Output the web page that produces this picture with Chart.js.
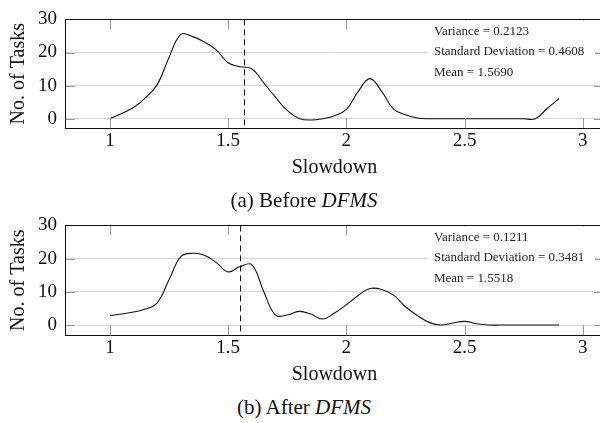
<!DOCTYPE html>
<html>
<head>
<meta charset="utf-8">
<script src="https://cdn.jsdelivr.net/npm/chart.js@4.4.1/dist/chart.umd.min.js"></script>
<style>
  body { margin: 0; background: #fff; width: 600px; height: 423px; overflow: hidden; position: relative; }
  canvas { position: absolute; left: 0; }
  #c1 { top: 0; }
  #c2 { top: 206px; }
  .caption { position: absolute; left: 0; width: 608px; text-align: center;
             font: 21px "Liberation Serif", "Times New Roman", serif; color: #111; line-height: 24px; }
</style>
</head>
<body>
<canvas id="c1" width="620" height="183"></canvas>
<canvas id="c2" width="620" height="184"></canvas>
<div class="caption" style="top:188px">(a) Before <i>DFMS</i></div>
<div class="caption" style="top:395px">(b) After <i>DFMS</i></div>
<script>
// slowdown values (x) and number of tasks for each run
const slowdown = [1.00, 1.05, 1.10, 1.15, 1.20, 1.25, 1.30, 1.35, 1.40, 1.45,
                  1.50, 1.55, 1.60, 1.65, 1.70, 1.75, 1.80, 1.85, 1.90, 1.95,
                  2.00, 2.05, 2.10, 2.15, 2.20, 2.25, 2.30, 2.35, 2.40, 2.45,
                  2.50, 2.55, 2.60, 2.65, 2.70, 2.75, 2.80, 2.85, 2.90];
const beforeTasks = [0, 1.6, 3.4, 6.3, 10.3, 18.5, 25.5, 24.8, 23.2, 20.8,
                     16.9, 15.7, 15.1, 10.9, 6.5, 2.5, 0.1, -0.4, 0, 0.9,
                     2.8, 8.2, 12.1, 8.2, 2.9, 1.2, 0.2, 0, 0, 0,
                     0, 0, 0, 0, 0, 0, 0, 3.1, 6.1];
const afterTasks = [2.9, 3.3, 3.9, 4.8, 6.7, 13.6, 20.6, 21.6, 21.0, 18.8,
                    16.0, 17.6, 18.2, 10.2, 3.0, 3.0, 4.1, 3.3, 1.8, 3.6,
                    6.1, 8.9, 11.0, 10.7, 9.0, 5.5, 2.9, 0.8, 0, 0.6,
                    1.1, 0.4, 0, 0, 0, 0, 0, 0, 0];
const xTicks = [1, 1.5, 2, 2.5, 3];
const yTicks = [0, 10, 20, 30];
const beforeStats = ['Variance = 0.2123', 'Standard Deviation = 0.4608', 'Mean = 1.5690'];
const afterStats = ['Variance = 0.1211', 'Standard Deviation = 0.3481', 'Mean = 1.5518'];
const beforeMean = 1.5690;
const afterMean = 1.5518;

const serif = '"Liberation Serif", "Times New Roman", serif';

// frame, inner tick marks, mean line and stats box
const extras = {
    id: 'extras',
    afterDatasetsDraw(chart, args, opts) {
        const ctx = chart.ctx;
        const a = chart.chartArea;
        const xs = chart.scales.x;
        const ys = chart.scales.y;
        ctx.save();

        // tick marks inside the frame
        ctx.strokeStyle = '#9a9a9a';
        ctx.lineWidth = 1;
        ctx.beginPath();
        xTicks.forEach(v => {
            const px = Math.round(xs.getPixelForValue(v)) + 0.5;
            ctx.moveTo(px, a.bottom); ctx.lineTo(px, a.bottom - 10);
            ctx.moveTo(px, a.top); ctx.lineTo(px, a.top + 10);
        });
        yTicks.forEach(v => {
            const py = Math.round(ys.getPixelForValue(v)) + 0.5;
            ctx.moveTo(a.left, py); ctx.lineTo(a.left + 10, py);
            ctx.moveTo(a.right, py); ctx.lineTo(a.right - 10, py);
        });
        ctx.stroke();

        // mean
        const mx = Math.round(xs.getPixelForValue(opts.mean)) + 0.5;
        ctx.strokeStyle = '#111';
        ctx.setLineDash([6, 4]);
        ctx.beginPath();
        ctx.moveTo(mx, a.top);
        ctx.lineTo(mx, a.bottom);
        ctx.stroke();
        ctx.setLineDash([]);

        // stats box
        ctx.fillStyle = '#fff';
        ctx.fillRect(a.left + 363, a.top + 1, 167, 64);
        ctx.fillStyle = '#222';
        ctx.font = '13px ' + serif;
        ctx.textBaseline = 'middle';
        ctx.textAlign = 'left';
        opts.lines.forEach((t, i) => {
            ctx.fillText(t, a.left + 369, a.top + 11.7 + i * 20.7);
        });

        // frame
        ctx.strokeStyle = '#111';
        ctx.lineWidth = 1;
        ctx.strokeRect(Math.round(a.left) + 0.5, Math.round(a.top) + 0.5,
                       Math.round(a.right - a.left), Math.round(a.bottom - a.top));
        ctx.restore();
    }
};

function makeChart(id, values, mean, lines, ymin) {
    return new Chart(document.getElementById(id), {
        type: 'line',
        data: {
            datasets: [{
                data: slowdown.map((s, i) => ({ x: s, y: values[i] })),
                borderColor: '#111',
                borderWidth: 1.1,
                pointRadius: 0,
                tension: 0.4,
                fill: false
            }]
        },
        options: {
            responsive: false,
            animation: false,
            layout: { padding: { top: 9, right: 16, left: 0, bottom: 0 } },
            plugins: {
                legend: { display: false },
                tooltip: { enabled: false },
                extras: { mean: mean, lines: lines }
            },
            scales: {
                x: {
                    type: 'linear',
                    min: 0.81,
                    max: 3.09,
                    afterBuildTicks: s => { s.ticks = xTicks.map(v => ({ value: v })); },
                    afterFit: s => { s.height = 55; },
                    grid: { display: false, drawTicks: false },
                    border: { display: false },
                    ticks: {
                        color: '#111',
                        padding: 2,
                        font: { family: serif, size: 19 },
                        callback: v => String(v)
                    },
                    title: {
                        display: true,
                        text: 'Slowdown',
                        color: '#111',
                        font: { family: serif, size: 20 },
                        padding: { top: 0, bottom: 3 }
                    }
                },
                y: {
                    min: ymin,
                    max: 30,
                    afterBuildTicks: s => { s.ticks = yTicks.map(v => ({ value: v })); },
                    afterFit: s => { s.width = 65; },
                    grid: { color: '#d6d6d6', drawTicks: false, lineWidth: 1 },
                    border: { display: false },
                    ticks: {
                        color: '#111',
                        padding: 8,
                        font: { family: serif, size: 19 },
                        callback: v => String(v)
                    },
                    title: {
                        display: true,
                        text: 'No. of Tasks',
                        color: '#111',
                        font: { family: serif, size: 20 },
                        padding: { top: 7, bottom: 0 }
                    }
                }
            }
        },
        plugins: [extras]
    });
}

makeChart('c1', beforeTasks, beforeMean, beforeStats, -2.8);
makeChart('c2', afterTasks, afterMean, afterStats, -3.0);
</script>
</body>
</html>
